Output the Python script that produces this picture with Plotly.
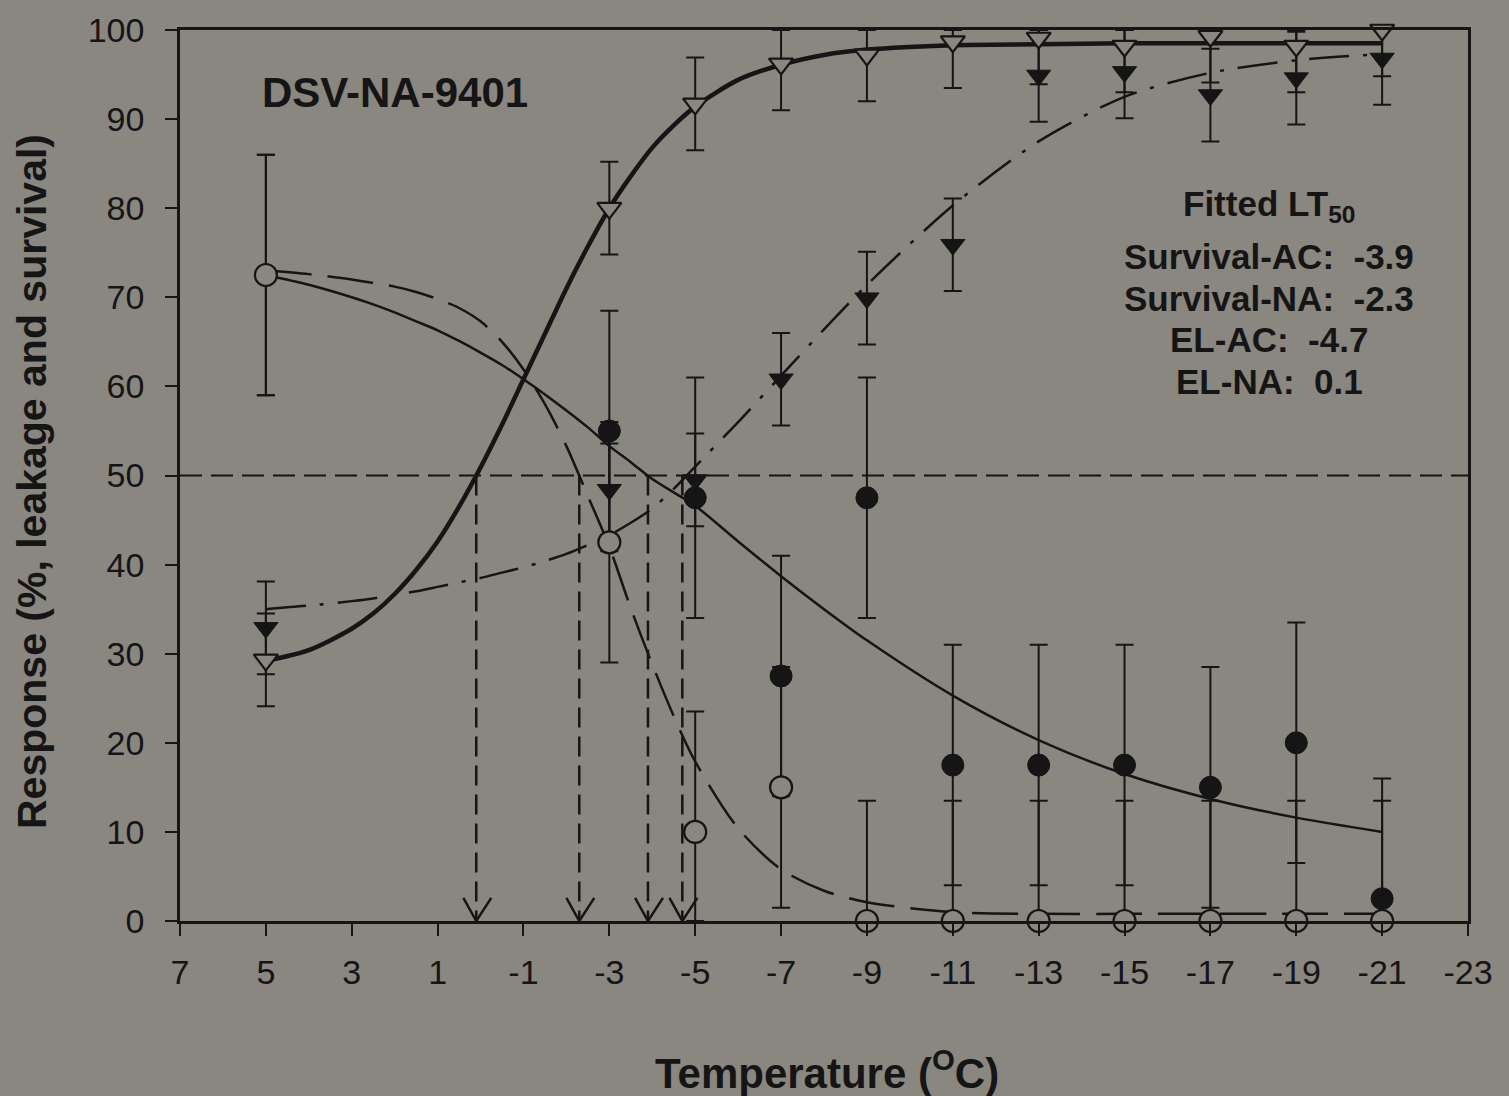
import plotly.graph_objects as go

# ---------------- data ----------------
temps = [5, -3, -5, -7, -9, -11, -13, -15, -17, -19, -21]
el_na = [29.3, 80.0, 91.7, 96.2, 97.2, 98.7, 99.1, 98.2, 99.3, 98.2, 100.0]
el_ac = [32.9, 48.4, 49.5, 60.8, 69.9, 75.9, 94.9, 95.3, 92.7, 94.6, 96.8]
surv_ac = [72.5, 55.0, 47.5, 27.5, 47.5, 17.5, 17.5, 17.5, 15.0, 20.0, 2.5]
surv_na = [72.5, 42.5, 10.0, 15.0, 0.0, 0.0, 0.0, 0.0, 0.0, 0.0, 0.0]
el_err = [5.2] * 11
surv_err = [13.5] * 11

# fitted curves
fit_x = [5, 4, 3, 2.5, 2, 1.5, 1, 0.5, 0, -0.5, -1, -1.5, -2, -2.5, -3, -3.5, -4, -4.5,
         -5, -6, -7, -8, -9, -11, -13, -15, -17, -19, -21]
fit_el_na = [29.2, 30.4, 32.8, 34.5, 36.7, 39.4, 42.6, 46.5, 50.9, 55.7, 60.8, 65.9, 71.0, 75.7,
             80.0, 83.6, 86.8, 89.3, 91.4, 94.4, 96.1, 97.2, 97.8, 98.3, 98.4, 98.5, 98.5, 98.5, 98.5]
fit_el_ac = [35.0, 35.4, 35.9, 36.2, 36.6, 37.0, 37.5, 38.0, 38.5, 39.1, 39.7, 40.4, 41.2, 42.2,
             43.3, 44.7, 46.3, 48.5, 51.0, 56.0, 61.2, 66.4, 71.4, 80.3, 87.5, 92.5, 95.2, 96.6, 97.3]
fit_surv_na = [73.0, 72.6, 72.0, 71.6, 71.2, 70.6, 69.8, 68.8, 67.3, 65.0, 61.9, 58.0, 53.3, 47.7,
               42.0, 35.1, 28.8, 23.0, 17.9, 10.4, 5.8, 3.4, 2.1, 1.0, 0.8, 0.8, 0.8, 0.8, 0.8]
fit_surv_ac = [72.5, 71.4, 70.0, 69.2, 68.3, 67.3, 66.3, 65.1, 63.8, 62.4, 60.8, 59.1, 57.3, 55.4,
               53.3, 51.5, 49.6, 48.1, 46.6, 42.6, 38.7, 35.0, 31.5, 25.3, 20.3, 16.5, 13.7, 11.6, 10.0]

lt50_names = ["Survival-AC", "Survival-NA", "EL-AC", "EL-NA"]
lt50_vals = [-3.9, -2.3, -4.7, 0.1]

x_ticks = list(range(7, -24, -2))
y_ticks = list(range(0, 101, 10))

BG = "#8a8680"
INK = "#151515"
FONT = "Liberation Sans, Arial, sans-serif"

fig = go.Figure()

# reference line at 50
fig.add_trace(go.Scatter(x=[7, -23], y=[50, 50], mode="lines",
                         line=dict(color=INK, width=2, dash="22px,9px"),
                         hoverinfo="skip", showlegend=False))
# vertical LT50 drop lines and arrowheads
for v in lt50_vals:
    fig.add_trace(go.Scatter(x=[v, v], y=[50, 0], mode="lines",
                             line=dict(color=INK, width=2.5, dash="20px,9px"),
                             hoverinfo="skip", showlegend=False))
    fig.add_trace(go.Scatter(x=[v + 0.3, v, v - 0.35], y=[2.6, 0, 2.6], mode="lines",
                             line=dict(color=INK, width=2.5),
                             hoverinfo="skip", showlegend=False))

# fitted curves
fig.add_trace(go.Scatter(x=fit_x, y=fit_el_na, mode="lines",
                         line=dict(color=INK, width=4.5, shape="spline", smoothing=0.8),
                         showlegend=False))
fig.add_trace(go.Scatter(x=fit_x, y=fit_el_ac, mode="lines",
                         line=dict(color=INK, width=2.5, shape="spline", smoothing=0.8,
                                   dash="40px,14px,4px,14px"),
                         showlegend=False))
fig.add_trace(go.Scatter(x=fit_x, y=fit_surv_na, mode="lines",
                         line=dict(color=INK, width=2.5, shape="spline", smoothing=0.8, dash="46px,16px"),
                         showlegend=False))
fig.add_trace(go.Scatter(x=fit_x, y=fit_surv_ac, mode="lines",
                         line=dict(color=INK, width=2.5, shape="spline", smoothing=0.8),
                         showlegend=False))


def err(vals, e):
    up = [min(a, 100 - v) for v, a in zip(vals, e)]
    dn = [min(a, v) for v, a in zip(vals, e)]
    return dict(type="data", symmetric=False, array=up, arrayminus=dn,
                color=INK, thickness=2, width=9)


# data points
fig.add_trace(go.Scatter(x=temps, y=surv_ac, mode="markers", cliponaxis=False,
                         marker=dict(symbol="circle", size=22, color=INK, line=dict(color=INK, width=1)),
                         error_y=err(surv_ac, surv_err), showlegend=False))
fig.add_trace(go.Scatter(x=temps, y=el_ac, mode="markers", cliponaxis=False,
                         marker=dict(symbol="triangle-down", size=21, color=INK, line=dict(color=INK, width=1)),
                         error_y=err(el_ac, el_err), showlegend=False))
fig.add_trace(go.Scatter(x=temps, y=surv_na, mode="markers", cliponaxis=False,
                         marker=dict(symbol="circle", size=22, color=BG, line=dict(color=INK, width=2.2)),
                         error_y=err(surv_na, surv_err), showlegend=False))
fig.add_trace(go.Scatter(x=temps, y=el_na, mode="markers", cliponaxis=False,
                         marker=dict(symbol="triangle-down", size=21, color=BG, line=dict(color=INK, width=2.2)),
                         error_y=err(el_na, el_err), showlegend=False))

ann = []
ann.append(dict(x=1.99, y=93.0, xref="x", yref="y", text="<b>DSV-NA-9401</b>", showarrow=False,
                font=dict(family=FONT, size=42, color=INK), xanchor="center", yanchor="middle"))
ann.append(dict(x=-18.37, y=80.2, xref="x", yref="y", text="<b>Fitted LT<sub>50</sub></b>", showarrow=False,
                font=dict(family=FONT, size=35, color=INK), xanchor="center", yanchor="middle"))
ys = [74.6, 69.9, 65.3, 60.6]
for name, val, yy in zip(lt50_names, lt50_vals, ys):
    ann.append(dict(x=-18.37, y=yy, xref="x", yref="y",
                    text="<b>%s:\u00a0\u00a0%s</b>" % (name, ("%.1f" % val)),
                    showarrow=False, font=dict(family=FONT, size=35, color=INK),
                    xanchor="center", yanchor="middle"))
ann.append(dict(x=-0.1149, y=0.4927, xref="paper", yref="paper",
                text="<b>Response (%, leakage and survival)</b>", textangle=-90, showarrow=False,
                font=dict(family=FONT, size=41, color=INK), xanchor="center", yanchor="middle"))
ann.append(dict(x=0.502, y=-0.1672, xref="paper", yref="paper",
                text="<b>Temperature (<sup>O</sup>C)</b>", showarrow=False,
                font=dict(family=FONT, size=42, color=INK), xanchor="center", yanchor="middle"))

fig.update_layout(
    width=1509, height=1096,
    margin=dict(l=180, r=41, t=30, b=175),
    paper_bgcolor=BG, plot_bgcolor=BG,
    showlegend=False,
    annotations=ann,
    font=dict(family=FONT, color=INK),
)
fig.update_xaxes(range=[7, -23], tickvals=x_ticks, ticktext=[str(t) for t in x_ticks],
                 showgrid=False, zeroline=False, showline=True, linecolor=INK, linewidth=2.5,
                 mirror=True, ticks="outside", ticklen=12, tickwidth=2, tickcolor=INK,
                 tickfont=dict(family=FONT, size=34, color=INK), ticklabelstandoff=7)
fig.update_yaxes(range=[0, 100], tickvals=y_ticks, ticktext=[str(t) for t in y_ticks],
                 showgrid=False, zeroline=False, showline=True, linecolor=INK, linewidth=2.5,
                 mirror=True, ticks="outside", ticklen=12, tickwidth=2, tickcolor=INK,
                 tickfont=dict(family=FONT, size=34, color=INK), ticklabelstandoff=14)

fig.write_html("out.html")
